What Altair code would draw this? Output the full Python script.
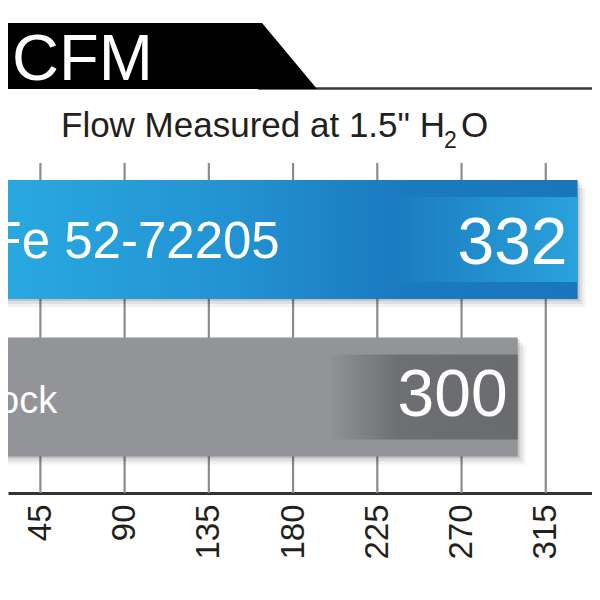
import altair as alt
import pandas as pd

# ---- data ----
names = ["aFe 52-72205", "Stock"]
values = [332, 300]
tick_values = [45, 90, 135, 180, 225, 270, 315]
title_text = "CFM"
subtitle_main = "Flow Measured at 1.5\" H"
subtitle_sub = "2"
subtitle_end = "O"

df = pd.DataFrame({"name": names, "value": values})
ticks_df = pd.DataFrame({"tick": tick_values})

FONT = "Liberation Sans"
W, H = 584, 330

x_scale = alt.Scale(domain=[27.7, 339.7], nice=False, zero=False)
y_scale = alt.Scale(domain=names, range=[0, 310.5], paddingInner=0.2444, paddingOuter=0.108)

xaxis = alt.Axis(
    values=tick_values, title=None, grid=False,
    ticks=False, tickSize=0, domainColor="#333333", domainWidth=3,
    labelFont=FONT, labelFontSize=33, labelColor="#231f20", labelAngle=270,
    labelAlign="right", labelBaseline="middle", labelPadding=11,
)


def grad(stops):
    return alt.LinearGradient(
        gradient="linear",
        stops=[alt.GradientStop(offset=o, color=c) for o, c in stops],
        x1=0, x2=1, y1=0, y2=0,
    )


def bar_layers(i, outer, inner, name_size, name_dy, value_dy):
    src = (
        alt.Chart(df)
        .transform_calculate(base="0", inner_start="datum.value - 100")
        .transform_filter(alt.datum.name == names[i])
    )
    y = alt.Y("name:N", scale=y_scale, axis=None)
    layers = []
    for k, op in [(2, 0.12), (5, 0.08), (8, 0.05)]:
        layers.append(
            src.mark_bar(color="black", opacity=op, xOffset=k, yOffset=k, clip=True).encode(
                x=alt.X("value:Q", scale=x_scale, axis=xaxis), x2="base:Q", y=y
            )
        )
    layers.append(
        src.mark_bar(color=outer, clip=True).encode(
            x=alt.X("value:Q", scale=x_scale, axis=xaxis), x2="base:Q", y=y
        )
    )
    layers.append(
        src.mark_bar(color=inner, height=85, clip=True).encode(
            x=alt.X("value:Q", scale=x_scale, axis=xaxis), x2="inner_start:Q", y=y
        )
    )
    layers.append(
        src.mark_text(font=FONT, fontSize=name_size, color="white", align="left",
                      baseline="alphabetic", dx=6, dy=name_dy, clip=True).encode(
            x=alt.X("base:Q", scale=x_scale, axis=xaxis), y=y, text="name:N"
        )
    )
    layers.append(
        src.mark_text(font=FONT, fontSize=66, color="white", align="right",
                      baseline="alphabetic", dx=-10, dy=value_dy, clip=True).encode(
            x=alt.X("value:Q", scale=x_scale, axis=xaxis), y=y, text="value:Q"
        )
    )
    return layers


blue_outer = grad([(0, "#2db0e8"), (0.07, "#29a9e1"), (0.45, "#2292d2"), (0.7, "#1a7bc1"), (1, "#1876bc")])
blue_inner = grad([(0, "#1a7bc1"), (1, "#2aa2db")])
gray_outer = "#929497"
gray_inner = grad([(0, "#919295"), (0.36, "#6e6f73"), (1, "#6a6b6f")])

grid = alt.Chart(ticks_df).mark_rule(color="#8c8c8c", strokeWidth=2.2).encode(
    x=alt.X("tick:Q", scale=x_scale, axis=xaxis), y=alt.value(0), y2=alt.value(H)
)

layers = [grid]
layers += bar_layers(0, blue_outer, blue_inner, 51, 18.5, 24)
layers += bar_layers(1, gray_outer, gray_inner, 38, 16, 19.5)

one = alt.Data(values=[{}])

rule_line = alt.Chart(one).mark_rule(color="#3a3a3a", strokeWidth=2.5).encode(
    x=alt.value(250), x2=alt.value(W), y=alt.value(-74.5)
)
banner = alt.Chart(one).mark_point(
    shape="M -1 -0.2 L 0.667 -0.2 L 1 0.2 L -1 0.2 Z",
    size=108900, filled=True, color="black", opacity=1, strokeWidth=0,
).encode(x=alt.value(144), y=alt.value(-107))
cfm = alt.Chart(one).mark_text(
    text=title_text, font=FONT, fontSize=65, color="white", align="left", baseline="alphabetic"
).encode(x=alt.value(4), y=alt.value(-83))
sub_main = alt.Chart(one).mark_text(
    text=subtitle_main, font=FONT, fontSize=35, color="#231f20", align="left", baseline="alphabetic"
).encode(x=alt.value(53), y=alt.value(-26))
sub_two = alt.Chart(one).mark_text(
    text=subtitle_sub, font=FONT, fontSize=23, color="#231f20", align="left", baseline="alphabetic"
).encode(x=alt.value(436), y=alt.value(-15))
sub_o = alt.Chart(one).mark_text(
    text=subtitle_end, font=FONT, fontSize=35, color="#231f20", align="left", baseline="alphabetic"
).encode(x=alt.value(453), y=alt.value(-26))

chart = (
    alt.layer(*layers, rule_line, banner, cfm, sub_main, sub_two, sub_o)
    .properties(
        width=W, height=H,
        autosize=alt.AutoSizeParams(type="none"),
        padding={"left": 0, "top": 155, "right": 0, "bottom": 95},
    )
    .configure_view(strokeWidth=0)
)

chart.save("out.html", embed_options={"renderer": "svg", "actions": False})
